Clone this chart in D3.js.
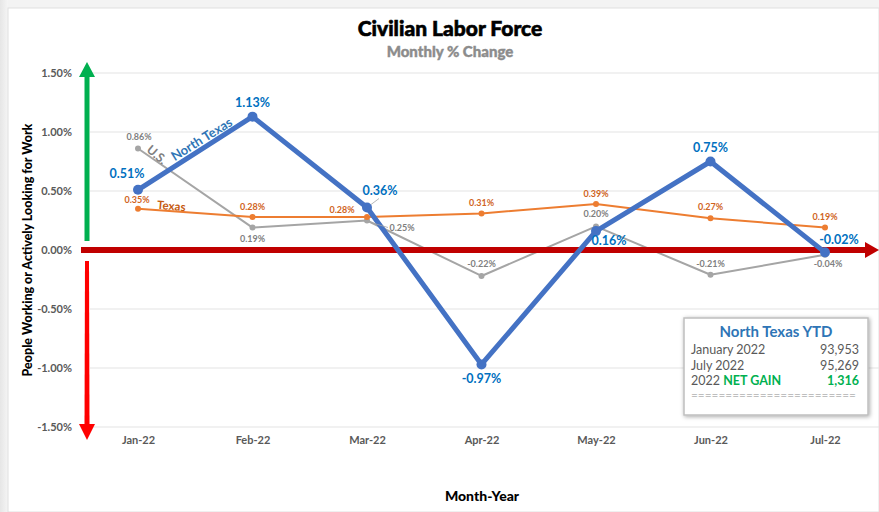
<!DOCTYPE html>
<html>
<head>
<meta charset="utf-8">
<script src="https://cdn.jsdelivr.net/npm/d3@7"></script>
<style>
  body { margin: 0; background: #f2f2f2; }
  svg { display: block; font-family: Lato, "Open Sans", sans-serif; }
</style>
</head>
<body>
<svg id="chart"></svg>
<script>
var months = ["Jan-22", "Feb-22", "Mar-22", "Apr-22", "May-22", "Jun-22", "Jul-22"];
var northTexas = [0.51, 1.13, 0.36, -0.97, 0.16, 0.75, -0.02];
var usValues = [0.86, 0.19, 0.25, -0.22, 0.20, -0.21, -0.04];
var texasValues = [0.35, 0.28, 0.28, 0.31, 0.39, 0.27, 0.19];
var yTicks = [1.5, 1.0, 0.5, 0, -0.5, -1.0, -1.5];

var ytdTitle = "North Texas YTD";
var ytdRows = [
  {label: "January 2022", gain: "", value: "93,953"},
  {label: "July 2022", gain: "", value: "95,269"},
  {label: "2022 ", gain: "NET GAIN", value: "1,316"}
];

// label nudges (dx, dy) per point
var ntOffsets = [[-11, -12], [0, -10], [13, -13], [0, 19], [13, 14], [0, -10], [14, -8]];
var usOffsets = [[1, -9], [0, 14], [35, 10], [0, -9], [0, -9], [0, -8], [3, 12]];
var txOffsets = [[-1, -6], [0, -7], [-25, -4], [0, -7], [0, -7], [0, -8], [0, -8]];

var W = 879, H = 512;
var svg = d3.select("#chart").attr("width", W).attr("height", H);
var defs = svg.append("defs");

// panel
var bg = defs.append("linearGradient").attr("id", "edge")
  .attr("x1", 0).attr("y1", 0).attr("x2", 1).attr("y2", 0);
bg.append("stop").attr("offset", "0%").attr("stop-color", "#e6e6e6");
bg.append("stop").attr("offset", "100%").attr("stop-color", "#f5f5f5");
svg.append("rect").attr("width", W).attr("height", H).attr("fill", "#f3f3f3");
svg.append("rect").attr("width", 8).attr("height", H).attr("fill", "url(#edge)");
svg.append("rect").attr("x", 8).attr("y", 8).attr("width", W - 8).attr("height", H - 8)
  .attr("fill", "#fff").attr("stroke", "#e0e0e0");

var x = d3.scalePoint().domain(months).range([138, 825]);
var y = d3.scaleLinear().domain([-1.5, 1.5]).range([427, 73]);

// gridlines
svg.append("g")
  .selectAll("line").data(yTicks).enter().append("line")
  .attr("x1", 90).attr("x2", W)
  .attr("y1", function(d) { return y(d); })
  .attr("y2", function(d) { return y(d); })
  .attr("stroke", "#e3e3e3").attr("stroke-width", 1);

// y axis labels
var yAxis = svg.append("g")
  .attr("transform", "translate(72,0)")
  .call(d3.axisLeft(y).tickValues(yTicks).tickSize(0).tickPadding(0)
    .tickFormat(function(d) { return d.toFixed(2) + "%"; }));
yAxis.select(".domain").remove();
yAxis.selectAll("text").attr("font-size", 11).attr("font-weight", 700)
  .attr("fill", "#595959").attr("font-family", "Lato");

// x axis labels
var xAxis = svg.append("g")
  .attr("transform", "translate(0,436)")
  .call(d3.axisBottom(x).tickSize(0).tickPadding(0));
xAxis.select(".domain").remove();
xAxis.selectAll("text").attr("font-size", 11).attr("font-weight", 700)
  .attr("fill", "#595959").attr("font-family", "Lato");

// titles
svg.append("text").attr("x", 450).attr("y", 36).attr("text-anchor", "middle")
  .attr("font-size", 21).attr("font-weight", 900).attr("fill", "#000")
  .attr("stroke", "#000").attr("stroke-width", 0.6)
  .text("Civilian Labor Force");
svg.append("text").attr("x", 450).attr("y", 57).attr("text-anchor", "middle")
  .attr("font-size", 15).attr("font-weight", 900).attr("fill", "#8c8c8c")
  .attr("stroke", "#8c8c8c").attr("stroke-width", 0.4)
  .text("Monthly % Change");
svg.append("text").attr("x", 482).attr("y", 501).attr("text-anchor", "middle")
  .attr("font-size", 14).attr("font-weight", 900).attr("fill", "#000")
  .text("Month-Year");
svg.append("text")
  .attr("transform", "translate(32,250) rotate(-90)")
  .attr("text-anchor", "middle")
  .attr("font-size", 12.5).attr("font-weight", 900).attr("fill", "#000")
  .text("People Working or Actively Looking for Work");

// arrows
svg.append("rect").attr("x", 84.5).attr("y", 74).attr("width", 5).attr("height", 167).attr("fill", "#00b050");
svg.append("path").attr("d", "M79,77 L87,62 L95,77 Z").attr("fill", "#00b050");
svg.append("path").attr("d", "M85,261 L89,261 L89.5,425 L84.5,425 Z").attr("fill", "#ff0000");
svg.append("path").attr("d", "M79,424 L95,424 L87,440 Z").attr("fill", "#ff0000");

var line = d3.line()
  .x(function(d, i) { return x(months[i]); })
  .y(function(d) { return y(d); });

function series(values, color, width, r) {
  var g = svg.append("g");
  g.append("path").datum(values).attr("d", line)
    .attr("fill", "none").attr("stroke", color).attr("stroke-width", width)
    .attr("stroke-linejoin", "round");
  g.selectAll("circle").data(values).enter().append("circle")
    .attr("cx", function(d, i) { return x(months[i]); })
    .attr("cy", function(d) { return y(d); })
    .attr("r", r).attr("fill", color);
  return g;
}

function labels(values, offsets, color, fontSize, weight) {
  svg.append("g").selectAll("text").data(values).enter().append("text")
    .attr("x", function(d, i) { return x(months[i]) + offsets[i][0]; })
    .attr("y", function(d, i) { return y(d) + offsets[i][1]; })
    .attr("text-anchor", "middle")
    .attr("font-size", fontSize).attr("font-weight", weight).attr("fill", color)
    .text(function(d) { return d.toFixed(2) + "%"; });
}

series(usValues, "#a5a5a5", 2, 3);
series(texasValues, "#ed7d31", 2, 3);

// zero arrow
svg.append("rect").attr("x", 81).attr("y", 247).attr("width", 786).attr("height", 6).attr("fill", "#c00000");
svg.append("path").attr("d", "M865,242 L879,250 L865,258 Z").attr("fill", "#c00000");

series(northTexas, "#4472c4", 5, 5);

// leader lines
svg.append("line")
  .attr("x1", x(months[2]) + 4).attr("y1", y(northTexas[2]) - 3)
  .attr("x2", x(months[2]) + 12).attr("y2", y(northTexas[2]) - 9)
  .attr("stroke", "#a5a5a5").attr("stroke-width", 0.8);
svg.append("line")
  .attr("x1", x(months[2]) + 4).attr("y1", y(usValues[2]) + 2)
  .attr("x2", x(months[2]) + 21).attr("y2", y(usValues[2]) + 7)
  .attr("stroke", "#a5a5a5").attr("stroke-width", 0.8);

labels(usValues, usOffsets, "#7f7f7f", 9, 700);
labels(texasValues, txOffsets, "#d0641e", 9, 700);
labels(northTexas, ntOffsets, "#0070c0", 12.5, 700);

// series names along their lines
svg.append("text").attr("transform", "translate(204,143) rotate(-32)")
  .attr("text-anchor", "middle").attr("font-size", 13).attr("font-weight", 700)
  .attr("fill", "#2e75b6").text("North Texas");
svg.append("text").attr("transform", "translate(154,158) rotate(40)")
  .attr("text-anchor", "middle").attr("font-size", 12.5).attr("font-weight", 700)
  .attr("fill", "#7f7f7f").text("U.S.");
svg.append("text").attr("transform", "translate(171,210) rotate(5)")
  .attr("text-anchor", "middle").attr("font-size", 11.5).attr("font-weight", 700)
  .attr("fill", "#c55a11").text("Texas");

// YTD box
var box = svg.append("g").attr("transform", "translate(684,318)");
var sh = defs.append("filter").attr("id", "shadow")
  .attr("x", "-10%").attr("y", "-10%").attr("width", "130%").attr("height", "130%");
sh.append("feDropShadow").attr("dx", 1).attr("dy", 1).attr("stdDeviation", 2)
  .attr("flood-color", "#000").attr("flood-opacity", 0.35);
box.append("rect").attr("width", 184).attr("height", 97)
  .attr("fill", "#fff").attr("stroke", "#bfbfbf").attr("stroke-width", 1.5)
  .attr("filter", "url(#shadow)");
box.append("text").attr("x", 92).attr("y", 19).attr("text-anchor", "middle")
  .attr("font-size", 15).attr("font-weight", 700).attr("fill", "#2e75b6")
  .text(ytdTitle);
var rows = box.selectAll("g.row").data(ytdRows).enter().append("g")
  .attr("transform", function(d, i) { return "translate(0," + (36 + i * 15.5) + ")"; });
var lab = rows.append("text").attr("x", 7).attr("font-size", 12.5).attr("fill", "#595959");
lab.append("tspan").text(function(d) { return d.label; });
lab.append("tspan").attr("fill", "#00b050").attr("font-weight", 700)
  .text(function(d) { return d.gain; });
rows.append("text").attr("x", 175).attr("text-anchor", "end").attr("font-size", 12.5)
  .attr("fill", function(d) { return d.gain ? "#00b050" : "#595959"; })
  .attr("font-weight", function(d) { return d.gain ? 700 : 400; })
  .text(function(d) { return d.value; });
box.append("text").attr("x", 7).attr("y", 81).attr("font-size", 10).attr("fill", "#8c8c8c")
  .attr("textLength", 165).attr("lengthAdjust", "spacingAndGlyphs")
  .text("========================");
</script>
</body>
</html>
